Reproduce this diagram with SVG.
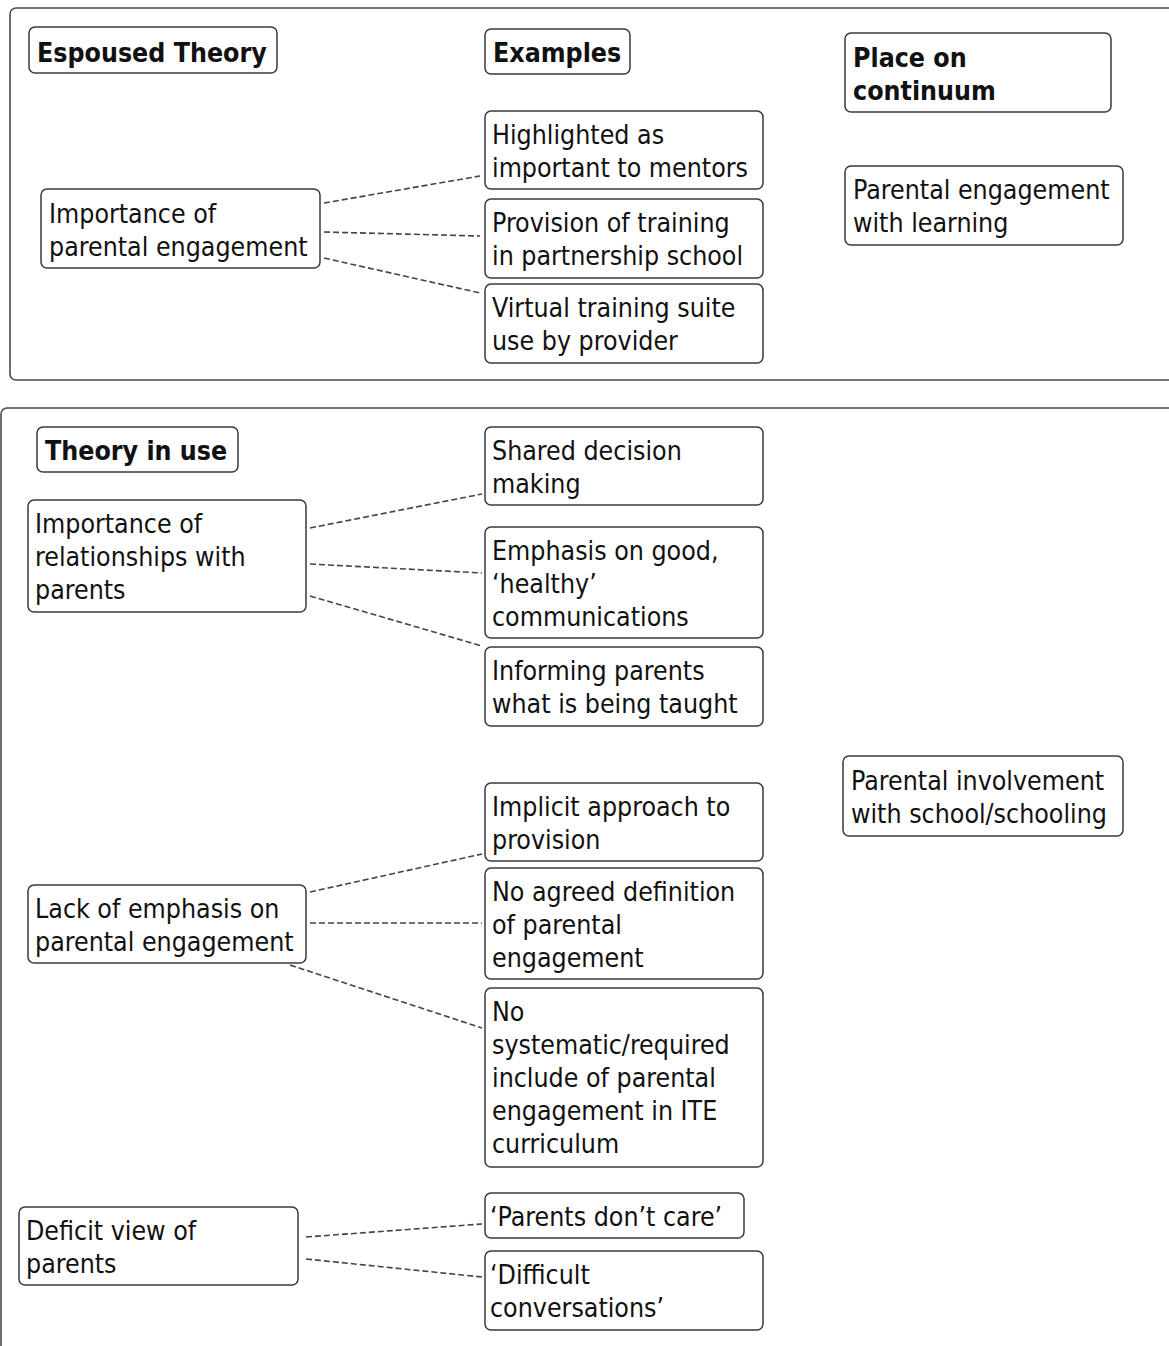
<svg xmlns="http://www.w3.org/2000/svg" width="1169" height="1346" viewBox="0 0 1169 1346">
<style>
  .frame { fill: none; stroke: #4a4a4a; stroke-width: 1.6; }
  .box { fill: #ffffff; stroke: #3a3a3a; stroke-width: 1.5; }
  .t { font-family: "DejaVu Sans Condensed", "DejaVu Sans", sans-serif; font-stretch: condensed; font-size: 26.5px; fill: #111111; }
  .b { font-weight: bold; }
  .conn line { stroke: #444444; stroke-width: 1.6; stroke-dasharray: 6 3; fill: none; }
</style>
<rect width="1169" height="1346" fill="#ffffff"/>
<g id="frame-espoused"><rect class="frame" x="10" y="8" width="1190" height="372" rx="6"/></g>
<g id="frame-inuse"><rect class="frame" x="1" y="408" width="1200" height="1000" rx="6"/></g>

<g class="conn" id="connectors">
  <line x1="324" y1="203" x2="480" y2="176"/>
  <line x1="324" y1="232" x2="480" y2="236"/>
  <line x1="324" y1="258" x2="480" y2="293"/>
  <line x1="310" y1="528" x2="482" y2="494"/>
  <line x1="310" y1="564" x2="482" y2="573"/>
  <line x1="310" y1="596" x2="482" y2="646"/>
  <line x1="310" y1="892" x2="482" y2="854"/>
  <line x1="310" y1="923" x2="482" y2="923"/>
  <line x1="290" y1="965" x2="482" y2="1028"/>
  <line x1="306" y1="1237" x2="482" y2="1224"/>
  <line x1="306" y1="1259" x2="482" y2="1277"/>
</g>

<g id="n-espoused"><rect class="box" x="29" y="27" width="248" height="46" rx="6"/>
  <text class="t b" x="37" y="62">Espoused Theory</text></g>
<g id="n-examples"><rect class="box" x="485" y="29" width="145" height="45" rx="6"/>
  <text class="t b" x="493" y="62">Examples</text></g>
<g id="n-place"><rect class="box" x="845" y="33" width="266" height="79" rx="6"/>
  <text class="t b" x="853" y="67"><tspan x="853">Place on</tspan><tspan x="853" dy="33">continuum</tspan></text></g>
<g id="n-engagement-learning"><rect class="box" x="845" y="166" width="278" height="79" rx="6"/>
  <text class="t" x="853" y="199"><tspan x="853">Parental engagement</tspan><tspan x="853" dy="33">with learning</tspan></text></g>

<g id="n-importance-pe"><rect class="box" x="41" y="189" width="279" height="79" rx="6"/>
  <text class="t" x="49" y="223"><tspan x="49">Importance of</tspan><tspan x="49" dy="33">parental engagement</tspan></text></g>
<g id="n-highlighted"><rect class="box" x="485" y="111" width="278" height="78" rx="6"/>
  <text class="t" x="492" y="144"><tspan x="492">Highlighted as</tspan><tspan x="492" dy="33">important to mentors</tspan></text></g>
<g id="n-provision"><rect class="box" x="485" y="199" width="278" height="79" rx="6"/>
  <text class="t" x="492" y="232"><tspan x="492">Provision of training</tspan><tspan x="492" dy="33">in partnership school</tspan></text></g>
<g id="n-virtual"><rect class="box" x="485" y="284" width="278" height="79" rx="6"/>
  <text class="t" x="492" y="317"><tspan x="492">Virtual training suite</tspan><tspan x="492" dy="33">use by provider</tspan></text></g>

<g id="n-theory-in-use"><rect class="box" x="37" y="427" width="201" height="45" rx="6"/>
  <text class="t b" x="45" y="460">Theory in use</text></g>
<g id="n-relationships"><rect class="box" x="28" y="500" width="278" height="112" rx="6"/>
  <text class="t" x="35" y="533"><tspan x="35">Importance of</tspan><tspan x="35" dy="33">relationships with</tspan><tspan x="35" dy="33">parents</tspan></text></g>
<g id="n-shared"><rect class="box" x="485" y="427" width="278" height="78" rx="6"/>
  <text class="t" x="492" y="460"><tspan x="492">Shared decision</tspan><tspan x="492" dy="33">making</tspan></text></g>
<g id="n-emphasis"><rect class="box" x="485" y="527" width="278" height="111" rx="6"/>
  <text class="t" x="492" y="560"><tspan x="492">Emphasis on good,</tspan><tspan x="492" dy="33">‘healthy’</tspan><tspan x="492" dy="33">communications</tspan></text></g>
<g id="n-informing"><rect class="box" x="485" y="647" width="278" height="79" rx="6"/>
  <text class="t" x="492" y="680"><tspan x="492">Informing parents</tspan><tspan x="492" dy="33">what is being taught</tspan></text></g>

<g id="n-involvement"><rect class="box" x="843" y="756" width="280" height="80" rx="6"/>
  <text class="t" x="851" y="790"><tspan x="851">Parental involvement</tspan><tspan x="851" dy="33">with school/schooling</tspan></text></g>

<g id="n-lack"><rect class="box" x="28" y="885" width="278" height="78" rx="6"/>
  <text class="t" x="35" y="918"><tspan x="35">Lack of emphasis on</tspan><tspan x="35" dy="33">parental engagement</tspan></text></g>
<g id="n-implicit"><rect class="box" x="485" y="783" width="278" height="78" rx="6"/>
  <text class="t" x="492" y="816"><tspan x="492">Implicit approach to</tspan><tspan x="492" dy="33">provision</tspan></text></g>
<g id="n-noagreed"><rect class="box" x="485" y="868" width="278" height="111" rx="6"/>
  <text class="t" x="492" y="901"><tspan x="492">No agreed definition</tspan><tspan x="492" dy="33">of parental</tspan><tspan x="492" dy="33">engagement</tspan></text></g>
<g id="n-nosystematic"><rect class="box" x="485" y="988" width="278" height="179" rx="6"/>
  <text class="t" x="492" y="1021"><tspan x="492">No</tspan><tspan x="492" dy="33">systematic/required</tspan><tspan x="492" dy="33">include of parental</tspan><tspan x="492" dy="33">engagement in ITE</tspan><tspan x="492" dy="33">curriculum</tspan></text></g>

<g id="n-deficit"><rect class="box" x="19" y="1207" width="279" height="78" rx="6"/>
  <text class="t" x="26" y="1240"><tspan x="26">Deficit view of</tspan><tspan x="26" dy="33">parents</tspan></text></g>
<g id="n-dontcare"><rect class="box" x="485" y="1193" width="259" height="45" rx="6"/>
  <text class="t" x="490" y="1226">‘Parents don’t care’</text></g>
<g id="n-difficult"><rect class="box" x="485" y="1251" width="278" height="79" rx="6"/>
  <text class="t" x="490" y="1284"><tspan x="490">‘Difficult</tspan><tspan x="490" dy="33">conversations’</tspan></text></g>
</svg>
